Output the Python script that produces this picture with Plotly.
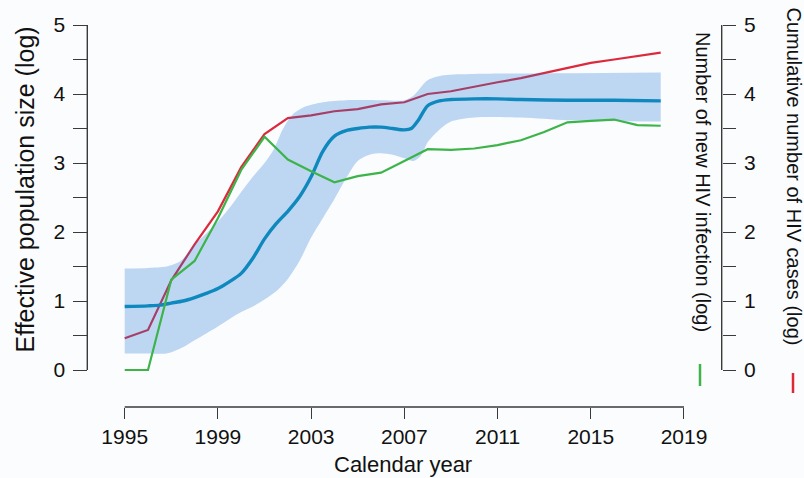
import plotly.graph_objects as go

# ---------------- data ----------------
years = list(range(1995, 2019))
new_infections_log = [0.0, 0.0, 1.31, 1.58, 2.20, 2.90, 3.38, 3.05, 2.88, 2.72, 2.81, 2.86,
                      3.03, 3.20, 3.19, 3.21, 3.26, 3.33, 3.45, 3.59, 3.61, 3.63, 3.55, 3.54]
cumulative_log = [0.46, 0.58, 1.30, 1.82, 2.30, 2.94, 3.42, 3.65, 3.69, 3.75, 3.78, 3.85,
                  3.88, 4.00, 4.04, 4.11, 4.17, 4.23, 4.30, 4.38, 4.45, 4.50, 4.55, 4.60]

ne_years = [1995, 1996, 1996.5, 1997, 1997.5, 1998, 1998.5, 1999, 1999.5, 2000, 2000.5, 2001,
            2001.5, 2002, 2002.5, 2003, 2003.5, 2004, 2004.5, 2005, 2005.5, 2006, 2006.5, 2007,
            2007.3, 2007.6, 2008, 2008.5, 2009, 2010, 2011, 2012, 2014, 2016, 2018]
ne_median = [0.92, 0.93, 0.94, 0.97, 1.00, 1.05, 1.11, 1.18, 1.28, 1.40, 1.62, 1.90,
             2.12, 2.30, 2.51, 2.80, 3.17, 3.39, 3.47, 3.50, 3.52, 3.52, 3.50, 3.48,
             3.50, 3.62, 3.83, 3.90, 3.92, 3.93, 3.93, 3.92, 3.91, 3.91, 3.90]

up_years = [1995, 1996, 1996.8, 1997.4, 1998, 1998.5, 1999, 1999.5, 2000, 2000.5, 2001, 2001.4,
            2001.8, 2002.2, 2002.7, 2003.5, 2004.5, 2006, 2007, 2007.4, 2008, 2008.7, 2010, 2014, 2018]
ne_upper = [1.47, 1.48, 1.50, 1.58, 1.82, 1.98, 2.15, 2.35, 2.58, 2.80, 3.00, 3.20,
            3.50, 3.70, 3.81, 3.88, 3.91, 3.91, 3.91, 3.98, 4.20, 4.27, 4.29, 4.30, 4.31]

lo_years = [1995, 1996, 1996.8, 1997.5, 1998, 1998.5, 1999, 1999.5, 2000, 2000.5, 2001, 2001.5,
            2002, 2002.5, 2003, 2003.5, 2004, 2004.5, 2005, 2005.5, 2006, 2006.5, 2007, 2007.4,
            2007.7, 2008, 2008.4, 2009, 2010, 2012, 2014, 2016, 2018]
ne_lower = [0.24, 0.24, 0.24, 0.33, 0.43, 0.53, 0.63, 0.74, 0.84, 0.92, 1.02, 1.14,
            1.32, 1.58, 1.92, 2.20, 2.48, 2.78, 3.03, 3.12, 3.14, 3.12, 3.07, 3.03,
            3.10, 3.30, 3.45, 3.60, 3.66, 3.66, 3.62, 3.61, 3.60]

x_ticks = [1995, 1999, 2003, 2007, 2011, 2015, 2019]
y_ticks = [0, 1, 2, 3, 4, 5]
y_minor = [0.5, 1.5, 2.5, 3.5, 4.5]

# ---------------- layout geometry (pixels) ----------------
W, H = 804, 478
X0, X1 = 124.7, 684.0      # pixel of 1995 and 2019
Y0, Y5 = 370.0, 25.0       # pixel of 0 and 5
XPAD, YPAD = 0.3, 0.08
ppx = (X1 - X0) / 24.0
ppy = (Y0 - Y5) / 5.0
dom_x = [(X0 - XPAD * ppx) / W, (X1 + XPAD * ppx) / W]
dom_y = [(H - (Y0 + YPAD * ppy)) / H, (H - (Y5 - YPAD * ppy)) / H]
LEFT_AX = 87.3 / W
RIGHT_AX = 721.7 / W
BOTTOM_AX = (H - 407.0) / H

RED = "#dc2a3c"
GREEN = "#3cb44a"
BLUE = "#0f88bd"
BAND = "rgba(30,120,220,0.28)"
AXC = "#3a3a3a"
FONT = "Liberation Sans, Arial, sans-serif"

fig = go.Figure()
fig.add_trace(go.Scatter(x=years, y=cumulative_log, mode="lines",
                         line=dict(color=RED, width=2.2), yaxis="y", showlegend=False))
fig.add_trace(go.Scatter(x=lo_years, y=ne_lower, mode="lines",
                         line=dict(width=0, shape="spline", smoothing=0.8, color="rgba(0,0,0,0)"),
                         yaxis="y", showlegend=False))
fig.add_trace(go.Scatter(x=up_years, y=ne_upper, mode="lines", fill="tonexty", fillcolor=BAND,
                         line=dict(width=0, shape="spline", smoothing=0.8, color="rgba(0,0,0,0)"),
                         yaxis="y", showlegend=False))
fig.add_trace(go.Scatter(x=ne_years, y=ne_median, mode="lines",
                         line=dict(color=BLUE, width=3.4, shape="spline", smoothing=0.8),
                         yaxis="y", showlegend=False))
fig.add_trace(go.Scatter(x=years, y=new_infections_log, mode="lines",
                         line=dict(color=GREEN, width=2.2), yaxis="y2", showlegend=False))

axis_common = dict(showgrid=False, zeroline=False, showline=False, ticks="outside",
                   tickcolor=AXC, tickwidth=1.4, automargin=False,
                   tickfont=dict(family=FONT, size=21, color="#111"))

fig.update_layout(
    width=W, height=H,
    margin=dict(l=0, r=0, t=0, b=0),
    paper_bgcolor="#fbfcfd", plot_bgcolor="#fbfcfd",
    font=dict(family=FONT, color="#111"),
    xaxis=dict(domain=dom_x, range=[1995 - XPAD, 2019 + XPAD], anchor="free", position=BOTTOM_AX,
               tickvals=x_ticks, ticklen=11, **axis_common),
    yaxis=dict(domain=dom_y, range=[-YPAD, 5 + YPAD], anchor="free", position=LEFT_AX,
               tickvals=y_ticks, ticklen=14, ticklabelstandoff=4,
               minor=dict(tickvals=y_minor, ticklen=14, ticks="outside", tickcolor=AXC, tickwidth=1.4),
               **axis_common),
    yaxis2=dict(range=[-YPAD, 5 + YPAD], overlaying="y", side="right", anchor="free", position=RIGHT_AX,
                tickvals=y_ticks, ticklen=13, ticklabelstandoff=4,
                minor=dict(tickvals=y_minor, ticklen=13, ticks="outside", tickcolor=AXC, tickwidth=1.4),
                **axis_common),
)

# axis lines (R-style, spanning only the labelled range)
fig.add_shape(type="line", xref="paper", yref="y", x0=LEFT_AX, x1=LEFT_AX, y0=0, y1=5,
              line=dict(color=AXC, width=1.4))
fig.add_shape(type="line", xref="paper", yref="y", x0=RIGHT_AX, x1=RIGHT_AX, y0=0, y1=5,
              line=dict(color=AXC, width=1.4))
fig.add_shape(type="line", xref="x", yref="paper", x0=1995, x1=2019, y0=BOTTOM_AX, y1=BOTTOM_AX,
              line=dict(color=AXC, width=1.4))

# legend marks next to right-hand titles
fig.add_shape(type="line", xref="paper", yref="paper", x0=700 / W, x1=700 / W,
              y0=(H - 364) / H, y1=(H - 386) / H, line=dict(color=GREEN, width=2.5))
fig.add_shape(type="line", xref="paper", yref="paper", x0=793 / W, x1=793 / W,
              y0=(H - 373) / H, y1=(H - 393) / H, line=dict(color=RED, width=2.5))

# titles
fig.add_annotation(text="Calendar year", xref="paper", yref="paper", x=402.5 / W, y=(H - 464) / H,
                   showarrow=False, xanchor="center", yanchor="middle",
                   font=dict(family=FONT, size=22, color="#111"))
fig.add_annotation(text="Effective population size (log)", xref="paper", yref="paper",
                   x=24.5 / W, y=(H - 190) / H, textangle=-90, showarrow=False,
                   xanchor="center", yanchor="middle", font=dict(family=FONT, size=25, color="#111"))
fig.add_annotation(text="Number of new HIV infection (log)", xref="paper", yref="paper",
                   x=703 / W, y=(H - 182) / H, textangle=90, showarrow=False,
                   xanchor="center", yanchor="middle", font=dict(family=FONT, size=20, color="#111"))
fig.add_annotation(text="Cumulative number of HIV cases (log)", xref="paper", yref="paper",
                   x=793.5 / W, y=(H - 176) / H, textangle=90, showarrow=False,
                   xanchor="center", yanchor="middle", font=dict(family=FONT, size=20, color="#111"))

fig.write_html("out.html", config={"displayModeBar": False},
               post_script="document.body.style.margin='0';document.body.style.overflow='hidden';")
